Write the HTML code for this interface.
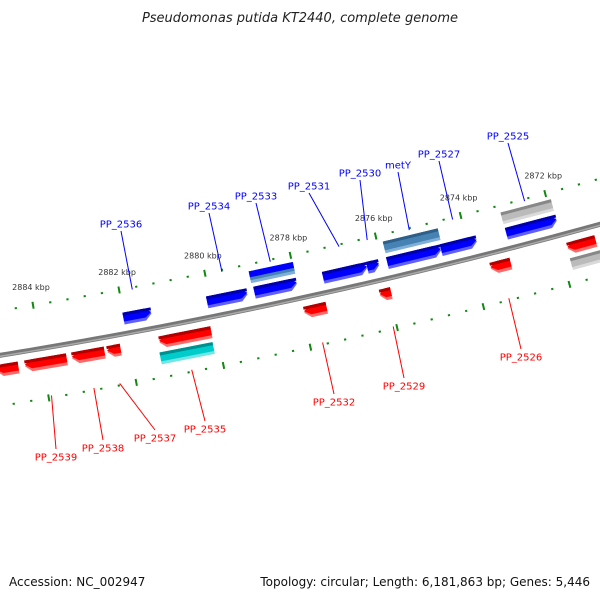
<!DOCTYPE html>
<html><head><meta charset="utf-8"><style>
html,body{margin:0;padding:0;background:#fff;}
svg{display:block;font-family:"DejaVu Sans","Liberation Sans",sans-serif;}
</style></head><body>
<svg id="chart" width="600" height="600" viewBox="0 0 600 600" xmlns="http://www.w3.org/2000/svg">
<rect x="0" y="0" width="600" height="600" fill="#fff"/>
<text x="300" y="22" text-anchor="middle" font-size="13" font-style="italic" fill="#222">Pseudomonas putida KT2440, complete genome</text>
<g id="ticks"></g>
<g id="backbone"></g>
<g id="genes"></g>
<g id="labels"></g>
<text x="9" y="586" font-size="12" fill="#111">Accession: NC_002947</text>
<text x="590" y="586" text-anchor="end" font-size="12" fill="#111">Topology: circular; Length: 6,181,863 bp; Genes: 5,446</text>
</svg>
<script>
const geneNames  = ["PP_2536","PP_2534","PP_2533","PP_2531","PP_2530","gene_a","PP_2527","PP_2525","PP_2533b","metY","gene_g1","gene_r0","PP_2539","PP_2538","PP_2537","PP_2535","PP_2532","PP_2529","PP_2526","gene_r9","PP_2535b","gene_g2"];
const geneStart  = [2882.02,2880.08,2878.98,2877.38,2876.35,2875.88,2874.62,2873.09,2879.01,2875.87,2873.10,2884.56,2883.45,2882.58,2882.21,2880.12,2877.45,2875.95,2873.16,2871.17,2880.14,2871.14];
const geneEnd    = [2881.37,2879.14,2877.99,2876.35,2876.07,2874.62,2873.78,2871.90,2877.98,2874.58,2871.91,2885.07,2884.41,2883.33,2882.52,2881.32,2877.97,2876.21,2873.63,2871.83,2881.36,2871.84];
const geneRow    = [-1,-1,-1,-1,-1,-1,-1,-1,-2,-2,-2,1,1,1,1,1,1,1,1,1,2,2];
const geneArrow  = [1,1,1,1,1,1,1,1,0,0,0,1,1,1,1,1,1,1,1,1,0,0];
const geneColor  = ["blue","blue","blue","blue","blue","blue","blue","blue","stack","steel","grey","red","red","red","red","red","red","red","red","red","cyan","grey"];
const labelTexts = ["PP_2536","PP_2534","PP_2533","PP_2531","PP_2530","metY","PP_2527","PP_2525","PP_2539","PP_2538","PP_2537","PP_2535","PP_2532","PP_2529","PP_2526"];
const labelKbp   = [2881.70,2879.61,2878.48,2876.87,2876.21,2875.22,2874.20,2872.50,2883.93,2882.96,2882.37,2880.72,2877.71,2876.08,2873.40];
const labelStrand= [-1,-1,-1,-1,-1,-1,-1,-1,1,1,1,1,1,1,1];
const labelPos   = [[121,224],[209,206],[256,196],[309,186],[360,173],[398,165],[439,154],[508,136],[56,457],[103,448],[155,438],[205,429],[334,402],[404,386],[521,357]];
const tickMajor  = [2886,2884,2882,2880,2878,2876,2874,2872,2870];

const NS="http://www.w3.org/2000/svg";
const CX=-912.8, CY=-5263, R0=5692, A0=75.04, REF=2872, DEG=0.4433;
function P(k,d){const a=(A0+(k-REF)*DEG)*Math.PI/180;const r=R0+d;return [CX+r*Math.cos(a),CY+r*Math.sin(a)];}
function pts(arr){return arr.map(p=>p[0].toFixed(2)+","+p[1].toFixed(2)).join(" ");}
function mk(tag,attrs,parent){const e=document.createElementNS(NS,tag);for(const k in attrs)e.setAttribute(k,attrs[k]);parent.appendChild(e);return e;}

// tick tracks
const tg=document.getElementById("ticks");
const UP=-44, LO=50;
for(let i=0;i<=40;i++){
  const k=2886-i*0.4;
  const isMaj=tickMajor.some(m=>Math.abs(m-k)<1e-6);
  [UP,LO].forEach(d=>{
    const h=isMaj?3.5:1;
    const a=P(k,d-h),b=P(k,d+h);
    const l=mk("line",{x1:a[0],y1:a[1],x2:b[0],y2:b[1],stroke:"#118811","stroke-width":isMaj?2:2.2},tg);
    
    
  });
  if(isMaj){
    const p=P(k,UP);
    const t=mk("text",{x:(p[0]-2).toFixed(1),y:(p[1]-15).toFixed(1),"text-anchor":"middle","font-size":"8",fill:"#333"},tg);
    t.textContent=Math.round(k)+" kbp";
    
    
  }
}

// backbone
const bg=document.getElementById("backbone");
function arcPath(d){let s="";for(let k=2887;k>=2869;k-=0.25){const p=P(k,d);s+=(s?"L":"M")+p[0].toFixed(2)+" "+p[1].toFixed(2);}return s;}
const b1=mk("path",{d:arcPath(0),stroke:"#777",fill:"none","stroke-width":5},bg);


const b2=mk("path",{d:arcPath(1),stroke:"#aaa",fill:"none","stroke-width":1.5},bg);



const COLORS={blue:["#0000ff","#6060ff","#0000a8"],red:["#ff0000","#ff6a6a","#b00000"],steel:["#4682b4","#80b0d8","#2e5f88"],cyan:["#00cccc","#70e6e6","#008e8e"],grey:["#bbbbbb","#dadada","#888888"],stack:["#4682b4","#80b0d8","#0000ff"]};

function shape(s,e,d,h,arrow){
  // tip at e
  const dir=Math.sign(e-s);const len=Math.abs(e-s);
  const hk=arrow?Math.min(0.15,len*0.5):0;
  const top=d-h/2,bot=d+h/2;
  if(!arrow) return [P(s,top),P(e,top),P(e,bot),P(s,bot)];
  return [P(s,top),P(e-dir*hk,top),P(e,d),P(e-dir*hk,bot),P(s,bot)];
}
const gg=document.getElementById("genes");
const H=12;
for(let i=0;i<geneNames.length;i++){
  const row=geneRow[i];
  const d=(Math.abs(row)===1?15:31)*Math.sign(row);
  const c=COLORS[geneColor[i]];
  const g=mk("g",{},gg);
  
  
  const s=geneStart[i], e=geneEnd[i];
  mk("polygon",{points:pts(shape(s,e,d,H,geneArrow[i])),fill:c[1]},g);
  mk("polygon",{points:pts(shape(s,e,d-1.5,H-3,geneArrow[i])),fill:c[0]},g);
  if(geneColor[i]==="stack"){
    mk("polygon",{points:pts(shape(s,e,d-3,H-6,0)),fill:c[2]},g);
  } else {
    mk("polygon",{points:pts(shape(s,e,d-H/2+1.5,3,0)),fill:c[2]},g);
  }
}

// labels
const lg=document.getElementById("labels");
for(let i=0;i<labelTexts.length;i++){
  const st=labelStrand[i];
  const col=st<0?"#0000ff":"#ff0000";
  const anchor=P(labelKbp[i], st<0?UP+2:LO-2);
  const lp=labelPos[i];
  const ly=st<0?lp[1]+7:lp[1]-8;
  const ln=mk("line",{x1:anchor[0].toFixed(1),y1:anchor[1].toFixed(1),x2:lp[0],y2:ly,stroke:col,"stroke-width":1},lg);
  
  
  const t=mk("text",{x:lp[0],y:lp[1]+3.5,"text-anchor":"middle","font-size":"10",fill:col},lg);
  t.textContent=labelTexts[i];
  
  
}
</script>
</body></html>
